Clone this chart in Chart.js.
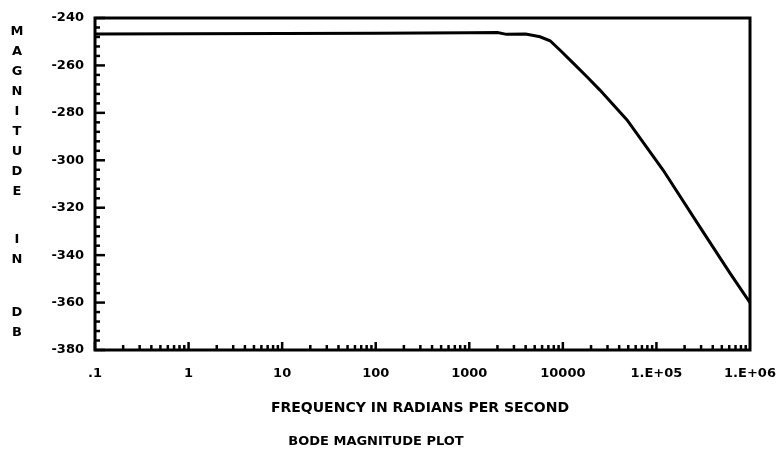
<!DOCTYPE html>
<html>
<head>
<meta charset="utf-8">
<script src="https://cdn.jsdelivr.net/npm/chart.js@4.4.1/dist/chart.umd.min.js"></script>
<style>
  body { margin: 0; background: #fff; }
  canvas { display: block; }
</style>
</head>
<body>
<canvas id="bodeChart" width="784" height="454"></canvas>
<script>
// frequency (rad/s) and magnitude (dB)
var freq = [0.1, 1, 10, 100, 1000, 2000, 2500, 4000, 5700, 7300, 9300, 12900, 18200, 24900, 48500, 117800, 292000, 611000, 1000000];
var magDb = [-246.7, -246.6, -246.5, -246.4, -246.2, -246.1, -246.9, -246.8, -247.9, -249.6, -253.5, -259.0, -264.9, -270.4, -283.0, -304.1, -328.2, -347.6, -360.0];

// axis ticks
var xDecades = [0.1, 1, 10, 100, 1000, 10000, 100000, 1000000];
var xTickLabels = [".1", "1", "10", "100", "1000", "10000", "1.E+05", "1.E+06"];
var yTicks = [-380, -360, -340, -320, -300, -280, -260, -240];

var yTitleWords = ["MAGNITUDE", "IN", "DB"];
var xTitle = "FREQUENCY IN RADIANS PER SECOND";
var plotTitle = "BODE MAGNITUDE PLOT";

var points = freq.map(function (f, i) {
  return { x: f, y: magDb[i] };
});

// frame, inward ticks and the hand lettered titles
var decor = {
  id: "decor",
  afterDraw: function (chart) {
    var ctx = chart.ctx;
    var a = chart.chartArea;
    var xs = chart.scales.x;
    var ys = chart.scales.y;
    ctx.save();
    ctx.strokeStyle = "#000";
    ctx.lineWidth = 3;
    ctx.strokeRect(a.left, a.top, a.right - a.left, a.bottom - a.top);

    // y ticks every 4 dB, long ones on the labels
    ctx.lineWidth = 2.5;
    for (var v = -380; v <= -240; v += 4) {
      var len = ((v + 380) % 20 === 0) ? 10 : 5;
      var py = ys.getPixelForValue(v);
      ctx.beginPath();
      ctx.moveTo(a.left, py);
      ctx.lineTo(a.left + len, py);
      ctx.stroke();
    }
    // x ticks 1..9 per decade
    for (var d = 0; d < xDecades.length - 1; d++) {
      for (var m = 1; m <= 9; m++) {
        var px = xs.getPixelForValue(xDecades[d] * m);
        var l = m === 1 ? 8 : 5;
        ctx.beginPath();
        ctx.moveTo(px, a.bottom);
        ctx.lineTo(px, a.bottom - l);
        ctx.stroke();
      }
    }

    ctx.fillStyle = "#000";
    ctx.textAlign = "center";
    ctx.textBaseline = "middle";
    ctx.font = "bold 13px 'DejaVu Sans'";
    var starts = [32, 240, 313];
    yTitleWords.forEach(function (w, wi) {
      w.split("").forEach(function (ch, ci) {
        ctx.fillText(ch, 17, starts[wi] + ci * 20);
      });
    });
    ctx.font = "bold 14px 'DejaVu Sans'";
    ctx.fillText(xTitle, 420, 408);
    ctx.font = "bold 13px 'DejaVu Sans'";
    ctx.fillText(plotTitle, 376, 442);
    ctx.restore();
  }
};

var ctxB = document.getElementById("bodeChart").getContext("2d");
var bodeChart = new Chart(ctxB, {
  type: "line",
  plugins: [decor],
  data: {
    datasets: [{
      data: points,
      borderColor: "#000",
      borderWidth: 3,
      pointRadius: 0,
      tension: 0,
      fill: false
    }]
  },
  options: {
    responsive: false,
    animation: false,
    devicePixelRatio: 1,
    layout: { padding: { left: 0, right: 34, top: 18, bottom: 0 } },
    plugins: {
      legend: { display: false },
      tooltip: { enabled: false }
    },
    scales: {
      x: {
        type: "logarithmic",
        min: 0.1,
        max: 1000000,
        grid: { display: false, drawTicks: false },
        border: { display: false },
        afterBuildTicks: function (scale) {
          scale.ticks = xDecades.map(function (v) { return { value: v }; });
        },
        afterFit: function (scale) {
          scale.height = 104;
          scale.paddingLeft = 0;
          scale.paddingRight = 0;
        },
        ticks: {
          autoSkip: false,
          maxRotation: 0,
          padding: 16,
          color: "#000",
          font: { family: "'DejaVu Sans'", size: 13, weight: "bold" },
          callback: function (value, index) { return xTickLabels[index]; }
        }
      },
      y: {
        min: -380,
        max: -240,
        grid: { display: false, drawTicks: false },
        border: { display: false },
        afterBuildTicks: function (scale) {
          scale.ticks = yTicks.map(function (v) { return { value: v }; });
        },
        afterFit: function (scale) {
          scale.width = 95;
          scale.paddingTop = 0;
          scale.paddingBottom = 0;
        },
        ticks: {
          padding: 11,
          color: "#000",
          font: { family: "'DejaVu Sans'", size: 13, weight: "bold" },
          callback: function (value) { return String(value); }
        }
      }
    }
  }
});
</script>
</body>
</html>
